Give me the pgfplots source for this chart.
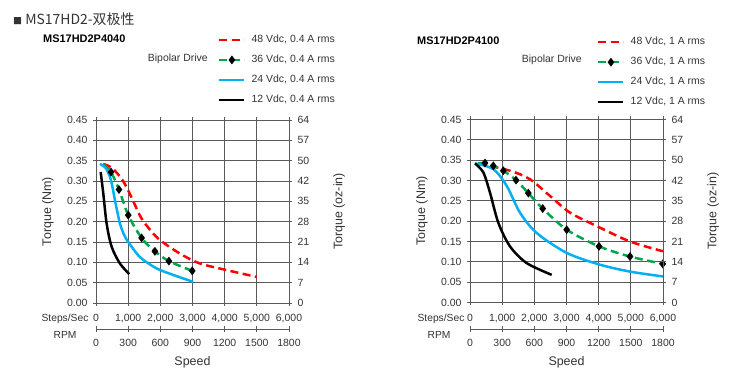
\documentclass[border=0pt]{standalone}
\usepackage{fontspec}
\setmainfont{Liberation Sans}
\newfontfamily\cjk{Noto Sans CJK SC}
\usepackage{pgfplots}
\pgfplotsset{compat=1.18}
\definecolor{cred}{HTML}{FF0000}
\definecolor{cgreen}{HTML}{00A550}
\definecolor{cblue}{HTML}{00B0F0}
\definecolor{txt}{HTML}{333333}
\definecolor{gridc}{HTML}{5A5A5A}
\pgfplotsset{
  base/.style={scale only axis, width=193bp, height=183bp,
    xmin=0, xmax=6000, ymin=0, ymax=0.45,
    xtick={0,1000,2000,3000,4000,5000,6000},
    ytick={0,0.05,0.10,0.15,0.20,0.25,0.30,0.35,0.40,0.45},
    tick align=center, major tick length=6bp,
    tick style={gridc, line width=0.8pt},
    axis line style={gridc, line width=0.8pt},
    font=\fontsize{10.5}{12}\selectfont\color{txt},
    label style={font=\fontsize{12.5}{14}\selectfont\color{txt}},
  },
  mainax/.style={base,
    grid=major, major grid style={gridc, line width=0.8pt},
    xticklabels={0,{1,000},{2,000},{3,000},{4,000},{5,000},{6,000}},
    yticklabels={0.00,0.05,0.10,0.15,0.20,0.25,0.30,0.35,0.40,0.45},
    xticklabel style={yshift=-5bp},
    yticklabel style={xshift=-2bp},
    ylabel={Torque (Nm)},
    ylabel style={at={(axis description cs:-0.249,0.5)}, anchor=center, rotate=0},
    legend cell align=left,
    legend image code/.code={\draw[#1, mark indices={2}] plot coordinates {(0bp,0bp) (12.5bp,0bp) (25bp,0bp)};},
  },
  rightax/.style={base, axis x line=none, axis y line*=right,
    yticklabels={0,7,14,21,28,35,42,50,57,64},
    yticklabel style={xshift=2bp},
    ylabel={Torque (oz-in)},
    ylabel style={at={(axis description cs:1.26,0.5)}, anchor=center, rotate=0},
  },
  rpmax/.style={scale only axis, width=193bp, height=10bp,
    xmin=0, xmax=1800, ymin=0, ymax=1,
    axis y line=none, axis x line*=bottom,
    xtick={0,300,600,900,1200,1500,1800},
    xticklabels={0,300,600,900,1200,1500,1800},
    tick align=center, major tick length=6bp,
    tick style={gridc, line width=0.8pt},
    axis line style={gridc, line width=0.8pt},
    font=\fontsize{10.5}{12}\selectfont\color{txt},
    xticklabel style={yshift=-4bp},
    xlabel={Speed},
    xlabel style={at={(axis description cs:0.5,0)}, anchor=center, yshift=-33bp, font=\fontsize{12.5}{14}\selectfont\color{txt}},
  },
  s48/.style={cred, line width=2.5bp, dash pattern=on 8bp off 4.5bp, smooth, no markers},
  s36/.style={cgreen, line width=2.5bp, dash pattern=on 8bp off 4.5bp, smooth, mark=diamond*, mark size=2.4bp, mark options={solid, fill=black, draw=black}},
  s24/.style={cblue, line width=2.5bp, smooth, no markers},
  s12/.style={black, line width=2.5bp, smooth, no markers},
}
\begin{document}
\begin{tikzpicture}
\useasboundingbox (0bp,0bp) rectangle (737bp,376bp);
% header
\node[anchor=west, inner sep=0pt, text=txt] at (13bp,357bp) {\cjk\fontsize{9}{10}\selectfont ■\fontsize{14}{16}\selectfont\ MS17HD2-双极性};
% ---------- left chart ----------
\node[anchor=west, inner sep=0pt] at (43bp,337bp) {\fontsize{11}{13}\selectfont\bfseries MS17HD2P4040};
\node[anchor=east, inner sep=0pt, text=txt] at (208bp,317bp) {\fontsize{10.5}{12}\selectfont Bipolar Drive};
\node[inner sep=0pt, text=txt] at (65bp,57bp) {\fontsize{10.3}{12}\selectfont Steps/Sec};
\node[inner sep=0pt, text=txt] at (65bp,41bp) {\fontsize{10.3}{12}\selectfont RPM};
\begin{axis}[mainax, at={(96bp,73bp)}, anchor=south west,
  legend style={at={(axis description cs:0.632,1.470)}, anchor=north west, draw=none, fill=none, inner sep=0pt, row sep=8.5bp, column sep=5bp,
    font=\fontsize{10.5}{12}\selectfont\color{txt}, nodes={inner sep=1bp, text height=7.5bp, text depth=2bp}}]
\addplot[s48] coordinates {(227,0.342) (500,0.332) (800,0.305) (1000,0.277) (1200,0.243) (1400,0.210) (1700,0.178) (2000,0.154) (2600,0.122) (3200,0.098) (4000,0.082) (5000,0.064)};
\addlegendentry{48 Vdc, 0.4 A rms}
\addplot[s36, mark indices={2,3,4,5,6,7,8}] coordinates {(227,0.342) (466,0.322) (714,0.279) (1003,0.216) (1418,0.160) (1832,0.127) (2267,0.103) (2991,0.079)};
\addlegendentry{36 Vdc, 0.4 A rms}
\addplot[s24] coordinates {(124,0.342) (300,0.332) (435,0.310) (520,0.282) (590,0.252) (670,0.222) (745,0.195) (870,0.168) (1003,0.150) (1366,0.113) (1885,0.085) (2402,0.069) (3023,0.052)};
\addlegendentry{24 Vdc, 0.4 A rms}
\addplot[s12] coordinates {(146,0.322) (227,0.269) (331,0.195) (488,0.138) (745,0.097) (1035,0.071)};
\addlegendentry{12 Vdc, 0.4 A rms}
\end{axis}
\begin{axis}[rightax, at={(96bp,73bp)}, anchor=south west]
\end{axis}
\begin{axis}[rpmax, at={(96bp,47bp)}, anchor=south west]
\end{axis}
% ---------- right chart ----------
\node[anchor=west, inner sep=0pt] at (417bp,335bp) {\fontsize{11}{13}\selectfont\bfseries MS17HD2P4100};
\node[anchor=east, inner sep=0pt, text=txt] at (582bp,316bp) {\fontsize{10.5}{12}\selectfont Bipolar Drive};
\node[inner sep=0pt, text=txt] at (441bp,57bp) {\fontsize{10.3}{12}\selectfont Steps/Sec};
\node[inner sep=0pt, text=txt] at (439bp,41bp) {\fontsize{10.3}{12}\selectfont RPM};
\begin{axis}[mainax, at={(470bp,73.5bp)}, anchor=south west,
  legend style={at={(axis description cs:0.658,1.455)}, anchor=north west, draw=none, fill=none, inner sep=0pt, row sep=8.5bp, column sep=5bp,
    font=\fontsize{10.5}{12}\selectfont\color{txt}, nodes={inner sep=1bp, text height=7.5bp, text depth=2bp}}]
\addplot[s48] coordinates {(259,0.342) (1243,0.324) (1865,0.303) (2487,0.262) (3108,0.221) (3938,0.188) (4974,0.150) (6000,0.126)};
\addlegendentry{48 Vdc, 1 A rms}
\addplot[s36, mark indices={2,3,4,5,6,7,8,9,10,11}] coordinates {(259,0.342) (466,0.343) (725,0.336) (1036,0.324) (1430,0.301) (1813,0.269) (2260,0.231) (3006,0.179) (4010,0.138) (4974,0.113) (5990,0.095)};
\addlegendentry{36 Vdc, 1 A rms}
\addplot[s24] coordinates {(155,0.342) (725,0.328) (1140,0.287) (1554,0.221) (2073,0.171) (3006,0.122) (4041,0.093) (4974,0.076) (6000,0.064)};
\addlegendentry{24 Vdc, 1 A rms}
\addplot[s12] coordinates {(155,0.342) (414,0.320) (622,0.270) (881,0.196) (1243,0.138) (1761,0.097) (2539,0.068)};
\addlegendentry{12 Vdc, 1 A rms}
\end{axis}
\begin{axis}[rightax, at={(470bp,73.5bp)}, anchor=south west]
\end{axis}
\begin{axis}[rpmax, at={(470bp,47bp)}, anchor=south west]
\end{axis}
\end{tikzpicture}
\end{document}
